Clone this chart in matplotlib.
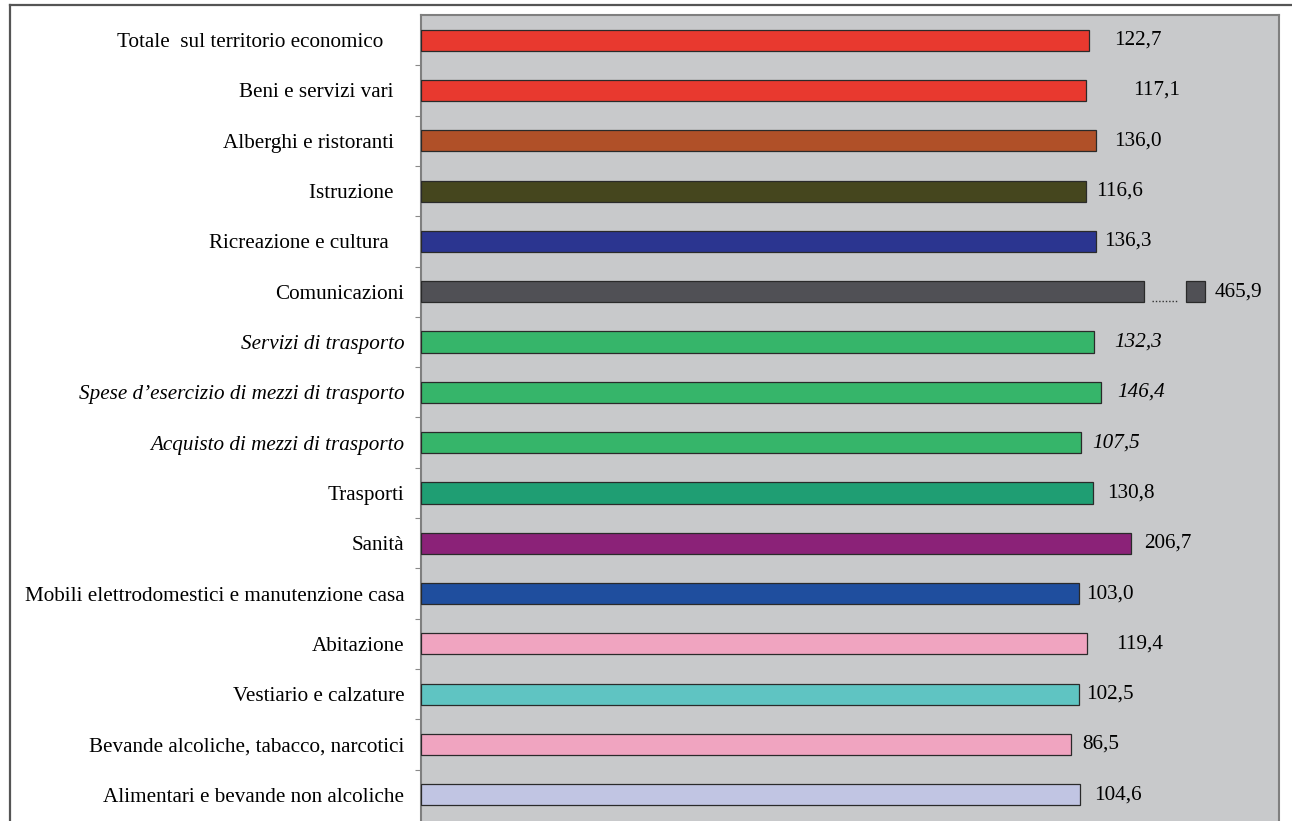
import matplotlib
matplotlib.use("Agg")
import matplotlib.pyplot as plt
import numpy as np
from matplotlib.lines import Line2D

plt.rcParams["font.family"] = ["Liberation Serif", "DejaVu Serif"]

categorie = [
    "Totale  sul territorio economico    ",
    "Beni e servizi vari  ",
    "Alberghi e ristoranti  ",
    "Istruzione  ",
    "Ricreazione e cultura   ",
    "Comunicazioni",
    "Servizi di trasporto",
    "Spese d\u2019esercizio di mezzi di trasporto",
    "Acquisto di mezzi di trasporto",
    "Trasporti",
    "Sanità",
    "Mobili elettrodomestici e manutenzione casa",
    "Abitazione",
    "Vestiario e calzature",
    "Bevande alcoliche, tabacco, narcotici",
    "Alimentari e bevande non alcoliche",
]
valori = [122.7, 117.1, 136.0, 116.6, 136.3, 465.9, 132.3, 146.4,
          107.5, 130.8, 206.7, 103.0, 119.4, 102.5, 86.5, 104.6]
corsivo = [False] * 6 + [True] * 3 + [False] * 7
colori = ["#e8392f", "#e8392f", "#b05028", "#45461e", "#2b3590", "#505055",
          "#36b56a", "#36b56a", "#36b56a", "#1f9e73", "#8b2278", "#1f4e9e",
          "#f0a4c0", "#5fc4c2", "#f0a4c0", "#c1c5e3"]

# distanza etichetta-barra (punti)
pad_etichette = [18, 34, 13, 7, 6, 7, 15, 12, 8, 10, 9, 5, 21, 5, 8, 10]

x_min, x_max = -1208, 501
# barra interrotta per Comunicazioni
taglio, punti_da, punti_a, blocco_da, blocco_a = 232, 248, 300, 316, 354

fs = 15.2

fig = plt.figure(figsize=(12.92, 8.21), dpi=100)
ax = fig.add_axes([421 / 1292, 0.0, (1279 - 421) / 1292, 1 - 15 / 821])
ax.set_facecolor("#c8c9cb")

y = np.arange(len(categorie))
h = 0.42
larghezze = [min(v, taglio) - x_min for v in valori]
ax.barh(y, larghezze, left=x_min, height=h, color=colori,
        edgecolor="#2a2a2a", linewidth=0.9, zorder=3)

for i, (v, pad) in enumerate(zip(valori, pad_etichette)):
    fine = v
    if v > taglio:
        ax.barh(i, blocco_a - blocco_da, left=blocco_da, height=h,
                color=colori[i], edgecolor="#2a2a2a", linewidth=0.9, zorder=3)
        ax.plot([punti_da, punti_a], [i + h / 2 - 0.03] * 2, ls=(0, (1, 1.4)),
                color="#333333", lw=1.0, zorder=3)
        fine = blocco_a
    testo = f"{v:.1f}".replace(".", ",")
    ax.annotate(testo, xy=(fine, i), xytext=(pad, 0), textcoords="offset points",
                va="center", ha="left", fontsize=fs,
                style="italic" if corsivo[i] else "normal")

ax.set_xlim(x_min, x_max)
ax.set_ylim(len(categorie) - 0.5 + 0.02, -0.5)
ax.set_xticks([])
ax.set_yticks(y)
ax.set_yticklabels(categorie, fontsize=fs)
for lab, c in zip(ax.get_yticklabels(), corsivo):
    if c:
        lab.set_style("italic")
ax.tick_params(axis="y", which="major", length=0, pad=12)
ax.set_yticks(np.arange(0.5, len(categorie) - 0.5), minor=True)
ax.tick_params(axis="y", which="minor", length=4.5, width=0.8, color="#8a8a8a",
               direction="out")

for lato in ["left", "top", "right"]:
    ax.spines[lato].set_color("#7f7f7f")
    ax.spines[lato].set_linewidth(1.5)
ax.spines["bottom"].set_visible(False)

# cornice esterna
fig.add_artist(Line2D([10 / 1292, 1.0], [1 - 5 / 821] * 2, color="#555555",
                      lw=1.6, transform=fig.transFigure))
fig.add_artist(Line2D([10 / 1292] * 2, [0.0, 1 - 5 / 821], color="#555555",
                      lw=1.6, transform=fig.transFigure))

fig.savefig("out.png", dpi=100)
